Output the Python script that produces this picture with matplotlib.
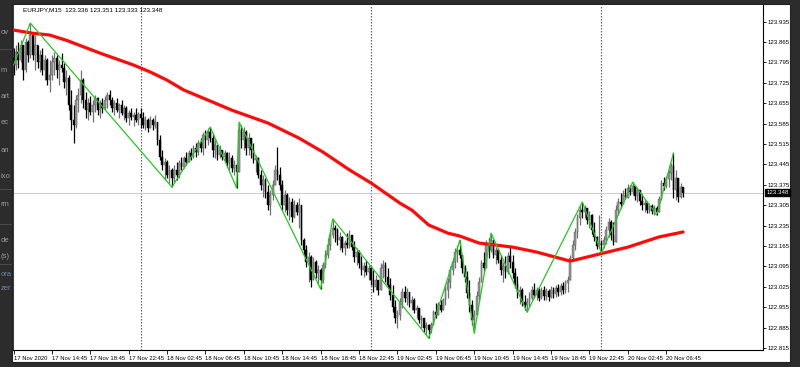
import numpy as np
import matplotlib
matplotlib.use("Agg")
import matplotlib.pyplot as plt
from matplotlib.patches import Rectangle
from matplotlib.transforms import blended_transform_factory

plt.rcParams['font.family'] = ['Liberation Sans', 'DejaVu Sans']

# ---- dados (EURJPY M15, primeira barra 17 Nov 10:45) ----
symbol = "EURJPY,M15"
header_prices = "123.336 123.351 123.333 123.348"
first_open = 123.810
last_price = 123.348

closes = [
    123.786, 123.830, 123.803, 123.854, 123.769, 123.865, 123.820, 123.889,
    123.820, 123.854, 123.796, 123.820, 123.769, 123.803, 123.734, 123.751, 123.796,
    123.810, 123.769, 123.786, 123.775, 123.727, 123.741, 123.648,
    123.597, 123.580, 123.666, 123.683, 123.734, 123.666,
    123.631, 123.655, 123.624, 123.648, 123.673, 123.631, 123.655, 123.638, 123.666,
    123.683, 123.666, 123.638, 123.655, 123.631, 123.648, 123.621,
    123.638, 123.604, 123.621, 123.607, 123.614, 123.597, 123.617,
    123.604, 123.580, 123.597, 123.570, 123.597, 123.580, 123.590,
    123.529, 123.470, 123.443, 123.453, 123.408, 123.426, 123.398,
    123.426, 123.408, 123.450, 123.436, 123.467, 123.453, 123.484, 123.470, 123.501, 123.487, 123.518, 123.501,
    123.546, 123.529, 123.556, 123.535,
    123.494, 123.511, 123.477, 123.494, 123.470, 123.484, 123.450, 123.467, 123.432, 123.443, 123.419,
    123.563,
    123.529, 123.556, 123.501, 123.535, 123.494, 123.460,
    123.467, 123.408, 123.374, 123.391, 123.350,
    123.305, 123.340, 123.374, 123.426, 123.408,
    123.374, 123.305, 123.340, 123.288, 123.316, 123.264, 123.305, 123.281,
    123.305, 123.185, 123.151, 123.110, 123.127, 123.048,
    123.110, 123.072, 123.083, 123.048,
    123.100, 123.134, 123.168, 123.203, 123.227,
    123.220, 123.185, 123.196, 123.158, 123.175, 123.168, 123.203, 123.161, 123.127, 123.144, 123.107, 123.083,
    123.096, 123.075, 123.089, 123.048, 123.024, 123.048, 123.014,
    123.089, 123.100, 123.059, 123.031, 122.997, 122.956, 122.918, 122.928,
    122.973, 123.007, 122.987, 123.007, 122.969,
    122.980, 122.945, 122.952, 122.911, 122.918, 122.884, 122.894, 122.877,
    122.894, 122.938, 122.928, 122.962, 122.945, 122.980, 123.014, 123.041, 123.083, 123.110, 123.144, 123.151, 123.134,
    123.089, 123.059, 123.004, 122.962, 122.911, 122.928,
    122.994, 123.041, 123.107, 123.089, 123.168, 123.151, 123.185,
    123.134, 123.151, 123.117, 123.083, 123.096, 123.075, 123.131, 123.110, 123.072, 123.034, 123.007, 123.014, 122.973, 122.962, 122.973,
    122.987, 123.014, 122.997, 123.014, 122.987, 123.014, 122.994, 123.011, 122.990, 123.014, 123.000, 123.021, 123.007, 123.028, 123.014, 123.038, 123.048,
    123.124, 123.168, 123.213, 123.261, 123.288, 123.281,
    123.295, 123.254, 123.271, 123.220, 123.196, 123.165, 123.175, 123.168,
    123.185, 123.220, 123.247, 123.203, 123.178, 123.288, 123.316, 123.309, 123.340, 123.330, 123.364, 123.350, 123.371,
    123.337, 123.357, 123.319, 123.305, 123.312, 123.288, 123.302, 123.285, 123.295, 123.281,
    123.326, 123.381, 123.371, 123.395, 123.415, 123.440, 123.357, 123.398, 123.333, 123.367, 123.348,
]

highs = [
    123.844, 123.854, 123.865, 123.871, 123.854, 123.878, 123.871, 123.930,
    123.871, 123.889, 123.854, 123.837, 123.844, 123.820, 123.810, 123.803, 123.820,
    123.830, 123.820, 123.803, 123.827, 123.792, 123.769, 123.751,
    123.700, 123.648, 123.683, 123.707, 123.769, 123.741,
    123.693, 123.673, 123.679, 123.666, 123.683, 123.676, 123.666, 123.673, 123.679,
    123.693, 123.700, 123.676, 123.666, 123.673, 123.655, 123.666,
    123.648, 123.645, 123.631, 123.638, 123.624, 123.638, 123.624,
    123.638, 123.624, 123.610, 123.604, 123.610, 123.604, 123.614,
    123.590, 123.546, 123.494, 123.467, 123.460, 123.443, 123.432,
    123.443, 123.453, 123.460, 123.470, 123.474, 123.487, 123.494, 123.501, 123.511, 123.518, 123.529, 123.535,
    123.556, 123.563, 123.570, 123.573,
    123.552, 123.529, 123.504, 123.511, 123.494, 123.494, 123.487, 123.487, 123.477, 123.460, 123.450,
    123.590,
    123.580, 123.573, 123.563, 123.552, 123.535, 123.518,
    123.477, 123.470, 123.426, 123.408, 123.398,
    123.374, 123.357, 123.391, 123.443, 123.504,
    123.436, 123.391, 123.357, 123.347, 123.333, 123.330, 123.323, 123.316,
    123.330, 123.305, 123.192, 123.168, 123.144, 123.134,
    123.127, 123.117, 123.100, 123.089,
    123.110, 123.151, 123.192, 123.220, 123.258,
    123.237, 123.227, 123.213, 123.199, 123.185, 123.209, 123.220, 123.203, 123.182, 123.158, 123.151, 123.131,
    123.110, 123.117, 123.100, 123.096, 123.083, 123.065, 123.048,
    123.107, 123.117, 123.110, 123.089, 123.055, 123.031, 122.980, 122.945,
    122.987, 123.021, 123.028, 123.021, 123.007,
    122.994, 122.987, 122.962, 122.952, 122.928, 122.918, 122.904, 122.897,
    122.904, 122.945, 122.969, 122.973, 122.980, 122.987, 123.031, 123.055, 123.096, 123.124, 123.158, 123.168, 123.185,
    123.134, 123.100, 123.079, 123.048, 122.980, 122.945,
    123.011, 123.059, 123.117, 123.144, 123.185, 123.192, 123.209,
    123.178, 123.161, 123.151, 123.134, 123.110, 123.131, 123.144, 123.161, 123.134, 123.089, 123.062, 123.028, 123.021, 122.997, 122.987,
    123.007, 123.028, 123.038, 123.024, 123.021, 123.024, 123.028, 123.021, 123.017, 123.028, 123.024, 123.031, 123.034, 123.038, 123.041, 123.048, 123.062,
    123.134, 123.185, 123.227, 123.275, 123.302, 123.316,
    123.305, 123.295, 123.285, 123.275, 123.247, 123.199, 123.271, 123.185,
    123.199, 123.233, 123.261, 123.254, 123.247, 123.305, 123.330, 123.347, 123.357, 123.364, 123.377, 123.374, 123.384,
    123.371, 123.367, 123.357, 123.343, 123.326, 123.319, 123.312, 123.309, 123.305, 123.302,
    123.337, 123.391, 123.402, 123.405, 123.426, 123.450, 123.484, 123.426, 123.374, 123.381, 123.364,
]

lows = [
    123.751, 123.769, 123.775, 123.796, 123.734, 123.762, 123.796, 123.810,
    123.803, 123.769, 123.775, 123.762, 123.751, 123.734, 123.717, 123.693, 123.734,
    123.751, 123.741, 123.717, 123.762, 123.707, 123.683, 123.631,
    123.563, 123.518, 123.570, 123.624, 123.655, 123.638,
    123.604, 123.597, 123.614, 123.590, 123.624, 123.614, 123.604, 123.621, 123.631,
    123.638, 123.648, 123.624, 123.614, 123.624, 123.604, 123.614,
    123.597, 123.590, 123.580, 123.597, 123.577, 123.590, 123.580,
    123.570, 123.570, 123.563, 123.556, 123.570, 123.563, 123.570,
    123.511, 123.460, 123.426, 123.391, 123.398, 123.381, 123.367,
    123.384, 123.391, 123.398, 123.426, 123.432, 123.443, 123.457, 123.460, 123.467, 123.470, 123.477, 123.487,
    123.477, 123.501, 123.511, 123.522,
    123.470, 123.467, 123.460, 123.467, 123.460, 123.457, 123.436, 123.426, 123.419, 123.408, 123.364,
    123.419,
    123.501, 123.494, 123.477, 123.477, 123.467, 123.450,
    123.419, 123.398, 123.357, 123.333, 123.330,
    123.288, 123.271, 123.323, 123.374, 123.391,
    123.357, 123.288, 123.281, 123.271, 123.254, 123.247, 123.261, 123.271,
    123.227, 123.168, 123.134, 123.093, 123.041, 123.024,
    123.075, 123.055, 123.031, 123.017,
    123.038, 123.089, 123.124, 123.151, 123.192,
    123.178, 123.168, 123.151, 123.144, 123.134, 123.158, 123.158, 123.151, 123.110, 123.100, 123.089, 123.065,
    123.059, 123.065, 123.048, 123.031, 123.007, 123.014, 122.997,
    123.021, 123.055, 123.041, 123.021, 122.980, 122.938, 122.901, 122.884,
    122.911, 122.952, 122.973, 122.962, 122.956,
    122.945, 122.935, 122.918, 122.901, 122.884, 122.870, 122.860, 122.849,
    122.866, 122.894, 122.918, 122.928, 122.938, 122.945, 122.962, 122.987, 123.021, 123.065, 123.089, 123.110, 123.124,
    123.072, 123.041, 122.987, 122.938, 122.894, 122.866,
    122.928, 122.980, 123.048, 123.075, 123.110, 123.124, 123.144,
    123.124, 123.103, 123.107, 123.065, 123.041, 123.055, 123.069, 123.089, 123.055, 123.021, 122.987, 122.966, 122.959, 122.945, 122.938,
    122.956, 122.980, 122.987, 122.980, 122.976, 122.983, 122.980, 122.980, 122.976, 122.987, 122.987, 122.990, 122.994, 122.997, 123.000, 123.004, 123.007,
    123.048, 123.117, 123.151, 123.192, 123.237, 123.261,
    123.261, 123.240, 123.227, 123.206, 123.182, 123.154, 123.158, 123.141,
    123.158, 123.171, 123.196, 123.185, 123.168, 123.185, 123.271, 123.295, 123.312, 123.326, 123.330, 123.340, 123.340,
    123.323, 123.316, 123.305, 123.288, 123.281, 123.278, 123.278, 123.275, 123.271, 123.271,
    123.281, 123.323, 123.357, 123.364, 123.367, 123.391, 123.330, 123.323, 123.316, 123.330, 123.333,
]

# ZigZag (verde)
zz_bars = [0, 7, 66, 82, 93, 94, 128, 133, 173, 186, 192, 199, 214, 237, 245, 258, 268, 275]
zz_prices = [123.786, 123.930, 123.367, 123.573, 123.364, 123.590, 123.017, 123.258, 122.849,
             123.185, 122.866, 123.209, 122.938, 123.316, 123.141, 123.384, 123.271, 123.484]

# media movel (vermelha)
ma_bars = [0, 8, 15, 22, 36, 50, 57, 64, 71, 78, 91, 106, 119, 129, 140, 149, 161, 166, 173,
           181, 186, 194, 208, 218, 232, 239, 244, 256, 269, 279]
ma_vals = [123.906, 123.895, 123.889, 123.871, 123.827, 123.786, 123.762, 123.734, 123.700,
           123.676, 123.631, 123.587, 123.535, 123.487, 123.426, 123.381, 123.312, 123.288,
           123.237, 123.209, 123.199, 123.175, 123.161, 123.144, 123.113, 123.127, 123.137,
           123.161, 123.196, 123.213]

day_breaks = [53, 149, 245]
time_ticks = [0, 16, 32, 48, 64, 80, 96, 112, 128, 144, 160, 176, 192, 208, 224, 240, 256, 272]
time_labels = ["17 Nov 2020", "17 Nov 14:45", "17 Nov 18:45", "17 Nov 22:45", "18 Nov 02:45",
               "18 Nov 06:45", "18 Nov 10:45", "18 Nov 14:45", "18 Nov 18:45", "18 Nov 22:45",
               "19 Nov 02:45", "19 Nov 06:45", "19 Nov 10:45", "19 Nov 14:45", "19 Nov 18:45",
               "19 Nov 22:45", "20 Nov 02:45", "20 Nov 06:45"]
price_ticks = [123.935, 123.865, 123.795, 123.725, 123.655, 123.585, 123.515, 123.445, 123.375,
               123.305, 123.235, 123.165, 123.095, 123.025, 122.955, 122.885, 122.815]

# fragmentos da janela de tras (lado esquerdo)
side_texts = [("ov", 33), ("m", 70), ("art", 97), ("ec", 123), ("an", 150), ("ixo", 177),
              ("rm", 205), ("de", 240), ("(s)", 257), ("ora", 275), ("zer", 288)]

assert len(closes) == len(highs) == len(lows)

W, H = 800, 367
def fx(px):
    return px / W
def fy(py):
    return 1 - py / H

fig = plt.figure(figsize=(8, 3.67), dpi=100, facecolor="#2c2c2c")

for txt, py in side_texts:
    col = "#6d86b0" if txt in ("ora", "zer") else "#9a9a9a"
    fig.text(fx(0.5), fy(py), txt, fontsize=5.5, color=col, va="center", ha="left", zorder=0.5)
for py in (50, 190, 225, 265):
    fig.patches.append(Rectangle((0, fy(py)), fx(12), 1.0 / H, transform=fig.transFigure,
                                 facecolor="#4a4a4a", edgecolor="none", zorder=0.6))

fig.patches.append(Rectangle((fx(12), fy(362)), fx(790) - fx(12), fy(4) - fy(362),
                             transform=fig.transFigure, facecolor="white",
                             edgecolor="#202020", lw=0.8, zorder=1))

ax = fig.add_axes([fx(13), fy(350), fx(763) - fx(13), fy(5) - fy(350)], zorder=2)
ax.set_facecolor("white")

x = np.arange(len(closes))
c = np.array(closes)
o = np.array([first_open] + closes[:-1])
h = np.maximum(np.array(highs), np.maximum(o, c))
l = np.minimum(np.array(lows), np.minimum(o, c))
up = c >= o

ax.vlines(x[up], l[up], h[up], color="#727272", lw=0.9, zorder=3)
ax.vlines(x[~up], l[~up], h[~up], color="#000000", lw=0.9, zorder=3)
body = np.maximum(np.abs(c - o), 0.002)
ax.bar(x[up], body[up], bottom=np.minimum(o, c)[up], width=0.75,
       color="#969696", edgecolor="#555555", lw=0.3, zorder=4)
ax.bar(x[~up], body[~up], bottom=np.minimum(o, c)[~up], width=0.75,
       color="#000000", edgecolor="#000000", lw=0.3, zorder=4)

for b in day_breaks:
    ax.axvline(b, color="#6a6a6a", lw=0.9, ls=(0, (1.2, 1.2)), zorder=1)
ax.axhline(last_price, color="#c4c4c4", lw=0.6, zorder=1)

ax.plot(ma_bars, ma_vals, color="#ff0a0a", lw=2.3, solid_capstyle="round",
        solid_joinstyle="round", zorder=5)
ax.plot(zz_bars, zz_prices, color="#22c922", lw=0.9, zorder=6)

ax.set_xlim(-0.21, 312.3)
ax.set_ylim(122.808, 123.992)

ax.yaxis.tick_right()
ax.set_yticks(price_ticks)
ax.set_yticklabels(["%.3f" % p for p in price_ticks])
ax.tick_params(axis="y", direction="out", length=2, width=0.6, pad=1.5,
               labelsize=4.4, colors="black")
ax.set_xticks(time_ticks)
ax.set_xticklabels(time_labels, ha="left")
ax.tick_params(axis="x", direction="out", length=3, width=0.6, pad=1.5,
               labelsize=4.2, colors="black")

ax.spines["top"].set_visible(False)
ax.spines["left"].set_color("#404040")
ax.spines["right"].set_color("#000000")
ax.spines["bottom"].set_color("#000000")
for s in ("left", "right", "bottom"):
    ax.spines[s].set_linewidth(0.8)

trans = blended_transform_factory(ax.transAxes, ax.transData)
ax.annotate("%.3f" % last_price, xy=(1.0, last_price), xycoords=trans,
            xytext=(2.5, 0), textcoords="offset points", ha="left", va="center",
            fontsize=4.4, color="white", annotation_clip=False,
            bbox=dict(boxstyle="square,pad=0.2", fc="black", ec="black"))

ax.text(fx(23 - 13) / (fx(763) - fx(13)), 0.985, symbol + "  " + header_prices,
        transform=ax.transAxes, fontsize=4.6, color="black", va="center", ha="left", zorder=7)

fig.savefig("out.png", dpi=100, facecolor=fig.get_facecolor())
